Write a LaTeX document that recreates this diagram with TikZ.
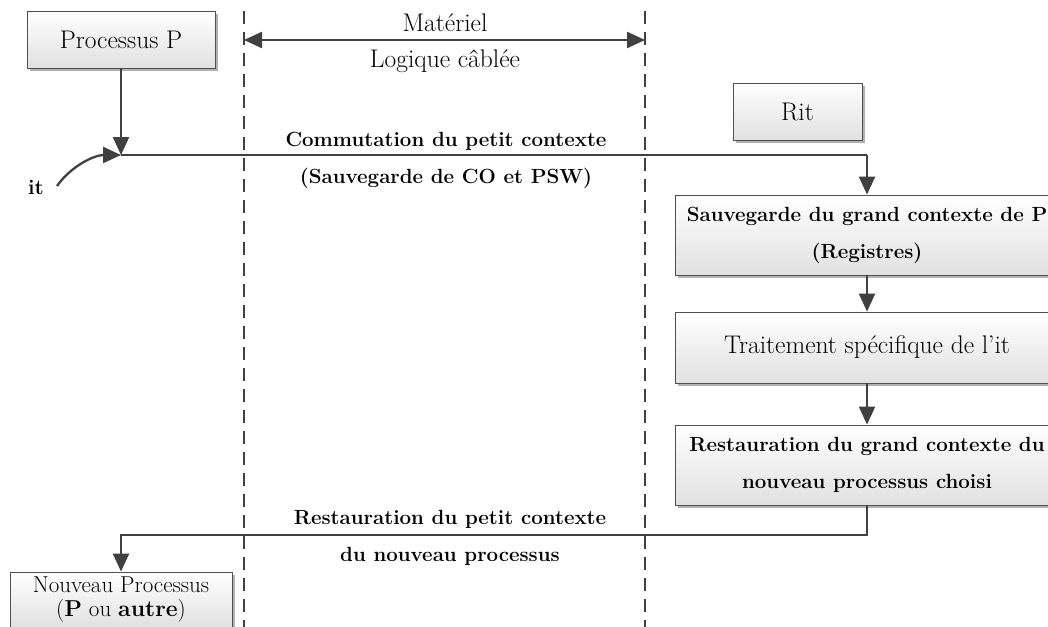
\documentclass[tikz,border=0pt]{standalone}
\usetikzlibrary{arrows.meta,shadows}
\definecolor{ln}{HTML}{404040}
\definecolor{bd}{HTML}{505050}
\begin{document}
\begin{tikzpicture}[x=1pt,y=-1pt,
  box/.style={draw=bd, line width=0.9pt, top color=white, bottom color=black!12,
    drop shadow={shadow xshift=3pt,shadow yshift=-3pt,fill=black!30,opacity=1},
    inner sep=0pt, align=center},
  reg/.style={font=\fontsize{25.5}{25}\selectfont},
  bld/.style={font=\fontsize{20.5}{37}\selectfont\bfseries},
  conn/.style={draw=ln, line width=2.3pt, -{Triangle[length=18pt,width=16pt]}},
  dsh/.style={draw=ln, line width=1.8pt, dash pattern=on 13pt off 8pt},
  lbl/.style={align=center, inner sep=0pt}]
\useasboundingbox (0,0) rectangle (1048,626);
\clip (0,0) rectangle (1048,626);
\fill[white] (0,0) rectangle (1048,626);
% dashed boundaries
\coordinate (d1t) at (244,11); \coordinate (d1b) at (244,630);
\coordinate (d2t) at (645,11); \coordinate (d2b) at (645,630);
\draw[dsh] (d1t) -- (d1b);
\draw[dsh] (d2t) -- (d2b);
\coordinate (m1) at (244,40); \coordinate (m2) at (645,40);
\draw[conn, {Triangle[length=18pt,width=16pt]}-{Triangle[length=18pt,width=16pt]}] (m1) -- (m2);
\node[lbl, reg] (mat) at (445,23) {Matériel};
\node[lbl, reg] (log) at (445,61) {Logique câblée};
% boxes
\node[box, reg, minimum width=188pt, minimum height=57pt] (P) at (121,39.5) {Processus P};
\node[box, reg, minimum width=129pt, minimum height=57pt] (Rit) at (797.5,111.5) {Rit};
\node[box, bld, minimum width=384pt, minimum height=80pt] (S) at (867,235) {Sauvegarde du grand contexte de P\\(Registres)};
\node[box, reg, minimum width=384pt, minimum height=71pt] (T) at (867,347.5) {Traitement spécifique de l'it};
\node[box, bld, minimum width=384pt, minimum height=80pt] (R) at (867,465) {Restauration du grand contexte du\\nouveau processus choisi};
\node[box, font=\fontsize{23}{24}\selectfont, minimum width=222pt, minimum height=56pt] (N) at (121,600) {Nouveau Processus\\(\textbf{P} ou \textbf{autre})};
% connectors
\coordinate (J) at (121,155);
\draw[conn] (P) -- (J);
\draw[conn, -] (J) -- (S.north |- J);
\draw[conn] (S.north |- J) -- (S);
\node[lbl, font=\fontsize{21}{24}\selectfont\bfseries] (it) at (36,187) {it};
\coordinate (itst) at (57,186);
\draw[conn] (itst) .. controls (72,165) and (95,155) .. (J);
\draw[conn] (S) -- (T);
\draw[conn] (T) -- (R);
\coordinate (rb) at (867,535);
\draw[conn] (R) -- (rb) -| (N);
\node[lbl, bld] (c1) at (446,160) {Commutation du petit contexte\\(Sauvegarde de CO et PSW)};
\node[lbl, bld] (c2) at (450,538) {Restauration du petit contexte\\du nouveau processus};
\end{tikzpicture}
\end{document}
